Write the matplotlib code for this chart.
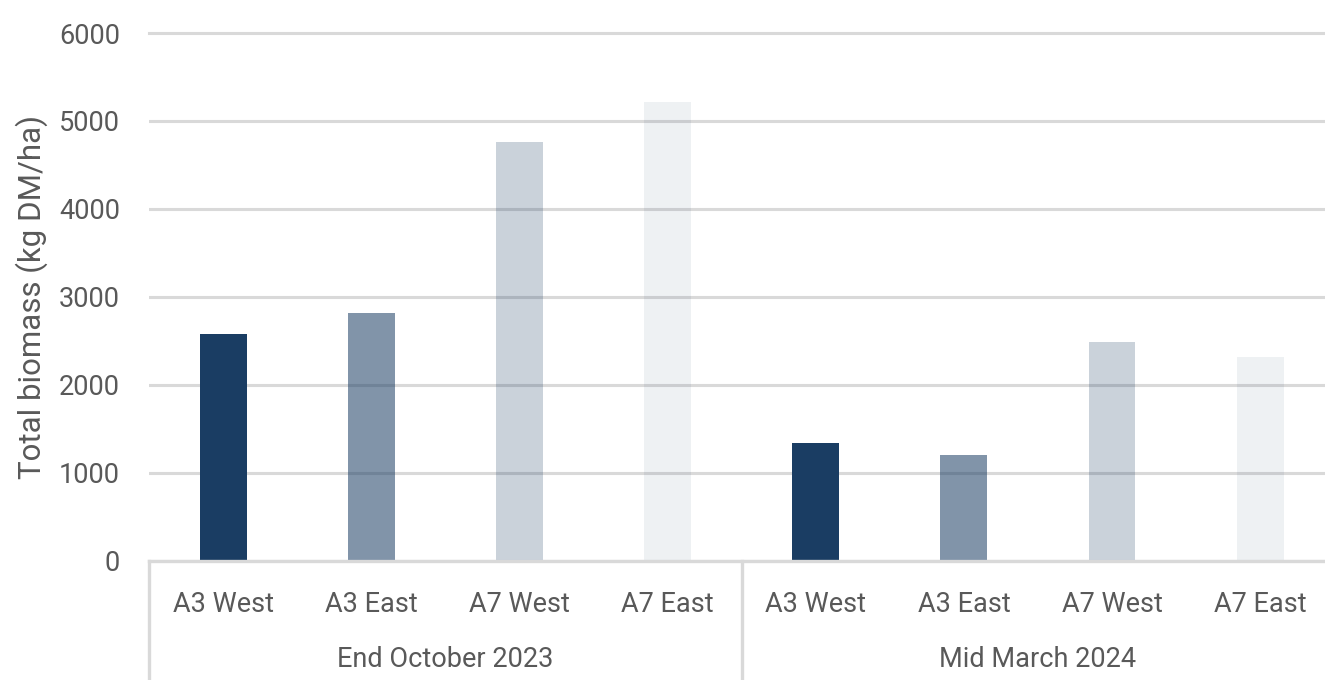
import matplotlib.pyplot as plt
from matplotlib.lines import Line2D

# --- Data ---
sites = ["A3 West", "A3 East", "A7 West", "A7 East"]
periods = ["End October 2023", "Mid March 2024"]
oct_2023 = [2580, 2820, 4760, 5220]
mar_2024 = [1340, 1200, 2490, 2320]

# same navy, fading per site
navy = "#1a3d63"
site_alpha = [1.0, 0.55, 0.23, 0.07]
text_col = "#595959"
grid_col = "#d9d9d9"

plt.rcParams['font.family'] = ['Roboto', 'DejaVu Sans']

fig = plt.figure(figsize=(13.25, 6.8), dpi=100)
ax = fig.add_axes([0.1127, 0.1757, 0.8942, 0.7757])

values = oct_2023 + mar_2024
labels = sites * len(periods)
xs = list(range(len(values)))
for x, v in zip(xs, values):
    ax.bar(x, v, width=0.317, color=navy, alpha=site_alpha[x % len(sites)], zorder=3)

# --- axes styling ---
ax.set_xlim(-0.5, len(values) - 0.5)
ax.set_ylim(0, 6000)
ax.set_yticks(range(0, 6001, 1000))
ax.yaxis.grid(True, color=grid_col, linewidth=2.2, zorder=1)
ax.set_axisbelow(True)
for s in ["top", "right", "left"]:
    ax.spines[s].set_visible(False)
ax.spines["bottom"].set_color(grid_col)
ax.spines["bottom"].set_linewidth(2.4)
ax.spines["bottom"].set_zorder(4)
ax.get_ygridlines()[-1].set_clip_on(False)

ax.tick_params(axis="y", length=0, pad=21, labelsize=19.5, labelcolor=text_col)
ax.set_xticks(xs)
ax.set_xticklabels(labels)
ax.tick_params(axis="x", length=0, pad=22, labelsize=19.5, labelcolor=text_col)

ax.set_ylabel("Total biomass (kg DM/ha)", fontsize=22.5, color=text_col, labelpad=8)

# --- group labels and separators ---
trans = ax.get_xaxis_transform()
n = len(sites)
for i, p in enumerate(periods):
    ax.text(i * n + (n - 1) / 2, -0.188, p, transform=trans, ha="center", va="center",
            fontsize=19.5, color=text_col)
for xb in [-0.5, n - 0.5]:
    ax.add_line(Line2D([xb, xb], [0, -0.3], transform=trans, color=grid_col,
                       linewidth=2.4, clip_on=False))

plt.savefig("out.png", dpi=100)
